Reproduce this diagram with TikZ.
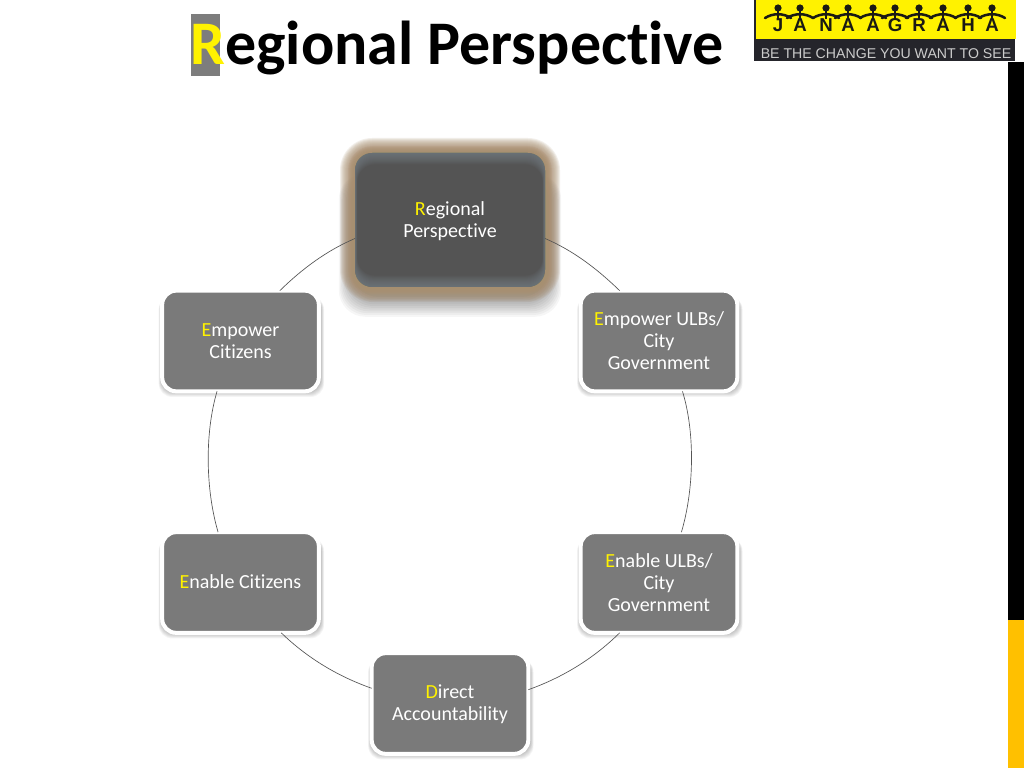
\documentclass[tikz,border=0pt]{standalone}
\usepackage{fontspec}
\setmainfont[Ligatures=NoCommon]{Carlito}
\newfontfamily\logofont{Liberation Sans}
\newcommand{\Yl}[1]{\textcolor{yellow}{#1}}
\newcommand{\Dn}[1]{\raisebox{-.75pt}[\height][\depth]{#1}}
\newcommand{\Up}[1]{\raisebox{.6pt}[\height][\depth]{#1}}
\tikzset{
  box/.style={rounded corners=10.5pt,fill=boxgray,draw=white,line width=3pt,minimum width=117.5pt,minimum height=75.5pt,
     text=white,align=center,font=\fontsize{15}{16.5}\selectfont,inner sep=0pt,outer sep=0pt},
  hero/.style={rounded corners=13pt,fill=heroface,minimum width=142.5pt,minimum height=100.5pt,
     text=white,align=center,font=\fontsize{15}{16.5}\selectfont,inner sep=0pt,outer sep=0pt},
  link/.style={draw=linkgray,line width=.5pt,looseness=.87},
  longlink/.style={draw=linkgray,line width=.5pt,looseness=.8},
  logoletter/.style={font=\logofont\bfseries\fontsize{14}{14}\selectfont,text=logoink,inner sep=0pt},
}
\definecolor{boxgray}{HTML}{7A7A7A}
\definecolor{heroface}{HTML}{545454}
\definecolor{linkgray}{HTML}{555555}
\definecolor{glow}{HTML}{A98F70}
\definecolor{bevel}{HTML}{7F8A92}
\definecolor{logoink}{HTML}{1A1A14}
\definecolor{logostrip}{HTML}{25252B}
\definecolor{gold}{HTML}{FFC000}
\newcommand{\softshadow}[2]{%
  \foreach \i in {0,...,7}{
    \fill[black,opacity=.04,rounded corners=10pt]
      ({#1-79-\i*.4},{#2-50-\i*.85}) rectangle ({#1+80+\i*.5},{#2+45});
  }}
\begin{document}
\begin{tikzpicture}[x=.75pt,y=.75pt]
\useasboundingbox (0,0) rectangle (1024,768);
\fill[white] (0,0) rectangle (1024,768);
% side bar
\fill[black] (1008,148) rectangle (1024,706);
\fill[gold] (1008,0) rectangle (1024,148);
% logo
\fill[yellow] (754,729) rectangle (1016,768);
\fill[logostrip] (754,707) rectangle (1015,729);
\fill[logostrip] (754,729) rectangle (755.5,768);
\node[font=\logofont\fontsize{10.6}{12}\selectfont,text=white!80!black,inner sep=0pt,anchor=center] (tag) at (886,714) {BE THE CHANGE YOU WANT TO SEE};
\foreach \x/\l in {778/J,800/A,826/N,848/A,873/A,895/G,919/R,943/A,968/H,992/A}{
  \node[logoletter] at (\x,742.5) {\l};
  \fill[logoink] (\x,760) circle (3.6);
  \draw[logoink,line width=1.9pt,line cap=round] (\x-13,750) .. controls (\x-5,755) and (\x+5,755) .. (\x+13,750);
  \draw[logoink,line width=1.6pt] (\x,757) -- (\x,749);
}
% title
\fill[gray!98!black] (191,692) rectangle (220,754);
\node[font=\bfseries\fontsize{46.5}{50}\selectfont,text=black,anchor=base west,inner sep=0pt] (title) at (190,703) {\Yl{R}egional Perspective};
% soft shadows and glow
\softshadow{240.5}{427}
\softshadow{659}{427}
\softshadow{240.5}{185.5}
\softshadow{659}{185.5}
\softshadow{450}{64.5}
\foreach \i in {0,...,11}{
  \fill[black,opacity=.035,rounded corners=20pt]
    ({355-3-\i*1.2},{481-10-\i*1.8}) rectangle ({545+3+\i*1.2},{615-20});
}
\foreach \e in {15,14,...,8}{
  \fill[glow,opacity=.14,rounded corners={13pt+\e*.75pt}]
    ({355-\e},{481-\e}) rectangle ({545+\e},{615+\e});
}
\foreach \e in {7,6,...,1}{
  \fill[glow,opacity=.3,rounded corners={13pt+\e*.75pt}]
    ({355-\e},{481-\e}) rectangle ({545+\e},{615+\e});
}
% nodes
\node[hero] (top) at (450,548) {\Dn{\Yl{R}egional}\\\Dn{Perspective}};
\node[box] (ur) at (659,427) {\Yl{E}mpower ULBs/\\City\\Government};
\node[box] (er) at (659,185.5) {\Yl{E}nable ULBs/\\City\\Government};
\node[box] (da) at (450,64.5) {\Dn{\Yl{D}irect}\\\Dn{Accountability}};
\node[box] (ec) at (240.5,185.5) {\Up{\Yl{E}nable Citizens}};
\node[box] (eu) at (240.5,427) {\Yl{E}mpower\\Citizens};
% bevel of the hero box
\begin{scope}
  \clip[rounded corners=13pt] (355,481) rectangle (545,615);
  \foreach \i in {1,...,12}{
    \fill[bevel,opacity=.07,even odd rule,rounded corners=13pt]
      (340,465) rectangle (560,630)
      ({355+\i*.2},{481+\i*.95}) rectangle ({545-\i*.2},{615-\i*.95});
  }
\end{scope}
% connectors
\draw[link] (top.-11.9) to[out=-23.2,in=135.9] (ur.128.8);
\draw[longlink] (ur.-65.7) to[out=-73,in=73.5] (er.66);
\draw[link] (er.232.6) to[out=-135.4,in=19.6] (da.10.2);
\draw[link] (da.169.7) to[out=160.6,in=-44.1] (ec.-51.4);
\draw[longlink] (ec.114.3) to[out=106.4,in=253.6] (eu.245.7);
\draw[link] (eu.52.1) to[out=44.4,in=203.2] (top.191.3);
\end{tikzpicture}
\end{document}
